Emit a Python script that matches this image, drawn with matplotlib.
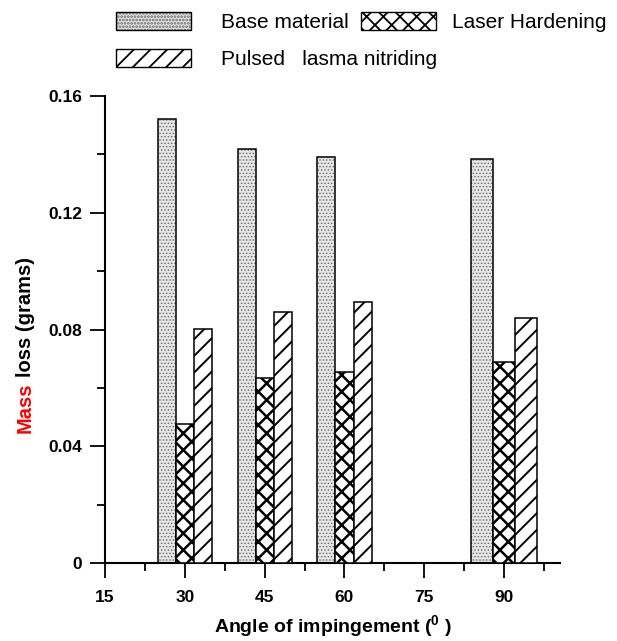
import matplotlib
matplotlib.use("Agg")
import matplotlib.pyplot as plt
from matplotlib.patches import Patch
from matplotlib.legend_handler import HandlerTuple
from matplotlib.ticker import FixedLocator, FuncFormatter

angles = [30, 45, 60, 90]
base_material = [0.1521, 0.1418, 0.1392, 0.1385]
laser_hardening = [0.0476, 0.0635, 0.0655, 0.0688]
pulsed_plasma = [0.0801, 0.0859, 0.0895, 0.0838]
series_labels = ["Base material", "Laser Hardening", "Pulsed   lasma nitriding"]
x_ticks = [15, 30, 45, 60, 75, 90]
y_ticks = [0, 0.04, 0.08, 0.12, 0.16]

plt.rcParams['font.family'] = ['Liberation Sans', 'DejaVu Sans']
plt.rcParams['mathtext.fontset'] = 'custom'
plt.rcParams['mathtext.rm'] = 'Liberation Sans'
plt.rcParams['mathtext.bf'] = 'Liberation Sans:bold'
plt.rcParams['mathtext.default'] = 'bf'

fig = plt.figure(figsize=(6.17, 6.41), dpi=100)
ax = fig.add_axes([105/617, 1-563/641, (560-105)/617, (563-96)/641])

widths = {30: 3.4, 45: 3.4, 60: 3.4, 90: 4.15}
edge_lw = 1.1

for i, a in enumerate(angles):
    w = widths[a]
    # base material: stipple
    plt.rcParams['hatch.linewidth'] = 0.6
    ax.bar(a - w, base_material[i], width=w, facecolor='#e6e6e6', edgecolor='#666666',
           hatch='.....', linewidth=0, zorder=2)
    ax.bar(a - w, base_material[i], width=w, facecolor='none', edgecolor='black',
           linewidth=edge_lw, zorder=3)
    plt.rcParams['hatch.linewidth'] = 1.8
    ax.bar(a, laser_hardening[i], width=w, facecolor='white', edgecolor='black',
           hatch='xx', linewidth=edge_lw, zorder=3)
    plt.rcParams['hatch.linewidth'] = 1.4
    ax.bar(a + w, pulsed_plasma[i], width=w, facecolor='white', edgecolor='black',
           hatch='//', linewidth=edge_lw, zorder=3)

ax.set_xlim(15, 100.5)
ax.set_ylim(0, 0.16)
for s in ['top', 'right']:
    ax.spines[s].set_visible(False)
for s in ['left', 'bottom']:
    ax.spines[s].set_linewidth(1.5)

ax.xaxis.set_major_locator(FixedLocator(x_ticks))
ax.xaxis.set_minor_locator(FixedLocator([22.5, 37.5, 52.5, 67.5, 82.5, 97.5]))
ax.yaxis.set_major_locator(FixedLocator(y_ticks))
ax.yaxis.set_minor_locator(FixedLocator([0.02, 0.06, 0.10, 0.14]))
ax.yaxis.set_major_formatter(FuncFormatter(lambda v, p: "0" if abs(v) < 1e-9 else f"{v:.2f}"))
ax.tick_params(which='major', direction='out', length=10.5, width=1.3, labelsize=12.5, pad=6)
ax.tick_params(which='minor', direction='out', length=5.5, width=1.3)
ax.tick_params(axis='x', which='major', pad=9)
for lab in ax.get_xticklabels() + ax.get_yticklabels():
    lab.set_fontweight('bold')

ax.set_xlabel(r"Angle of impingement ($^{0}$ )", fontsize=14, fontweight='bold', labelpad=6)

# two-colour y label
t1 = fig.text(31/617, (641-433)/641, "Mass", rotation=90, rotation_mode='anchor',
              ha='left', va='baseline', fontsize=14.5, fontweight='bold', color='#ff0000')
fig.canvas.draw()
r = fig.canvas.get_renderer()
bb = t1.get_window_extent(r)
sp = fig.text(0, 0, "M M", fontsize=14.5, fontweight='bold')
w_mm = sp.get_window_extent(r).width
sp2 = fig.text(0, 0, "MM", fontsize=14.5, fontweight='bold')
w_space = w_mm - sp2.get_window_extent(r).width
sp.remove(); sp2.remove()
y2 = (bb.y1 + w_space) / fig.bbox.height
fig.text(31/617, y2, "loss (grams)", rotation=90, rotation_mode='anchor',
         ha='left', va='baseline', fontsize=14.5, fontweight='bold', color='black')

# legend
plt.rcParams['hatch.linewidth'] = 0.6
h_base_fill = Patch(facecolor='#e6e6e6', edgecolor='#666666', hatch='.....', linewidth=0)
h_base_edge = Patch(facecolor='none', edgecolor='black', linewidth=1.0)
plt.rcParams['hatch.linewidth'] = 1.6
h_laser = Patch(facecolor='white', edgecolor='black', hatch='xx', linewidth=1.0)
plt.rcParams['hatch.linewidth'] = 1.3
h_pulsed = Patch(facecolor='white', edgecolor='black', hatch='//', linewidth=1.0)
common = dict(frameon=False, fontsize=15, handlelength=3.6, handleheight=1.0,
              borderpad=0, borderaxespad=0, loc='center left')
fig.legend([(h_base_fill, h_base_edge)], [series_labels[0]],
           handler_map={tuple: HandlerTuple(ndivide=1, pad=0)},
           bbox_to_anchor=(116/617, 1-22/641), handletextpad=1.45, **common)
fig.legend([h_laser], [series_labels[1]], bbox_to_anchor=(361/617, 1-22/641),
           handletextpad=0.75, **common)
fig.legend([h_pulsed], [series_labels[2]], bbox_to_anchor=(116/617, 1-59/641),
           handletextpad=1.45, **common)

fig.savefig("out.png", dpi=100)
